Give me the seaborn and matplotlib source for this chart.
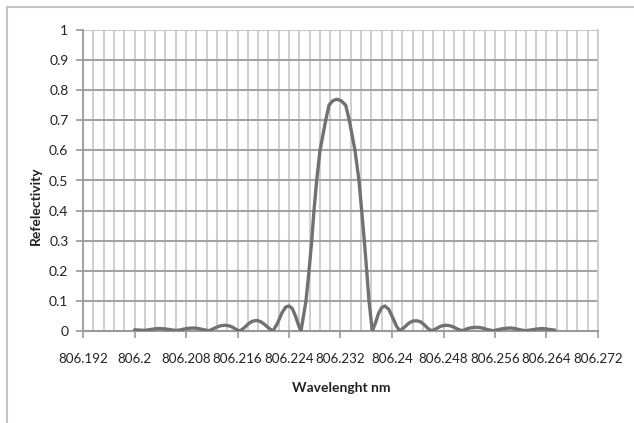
import matplotlib
matplotlib.use("Agg")
import matplotlib.pyplot as plt
import seaborn as sns
import pandas as pd
from matplotlib.lines import Line2D

wavelength = [
    806.2000, 806.2008, 806.2016, 806.2022, 806.2028, 806.2035, 806.2041, 806.2047, 806.2054, 806.2060,
    806.2066, 806.2072, 806.2078, 806.2085, 806.2091, 806.2097, 806.2104, 806.2110,
    806.2116, 806.2122, 806.2129, 806.2135, 806.2141, 806.2147, 806.2153, 806.2158,
    806.2164, 806.2171, 806.2178, 806.2184, 806.2190, 806.2196, 806.2202, 806.2209,
    806.2215, 806.2222, 806.2229, 806.2235, 806.2240, 806.2245, 806.2250, 806.2255,
    806.22586, 806.22664, 806.22711, 806.22753, 806.22788, 806.22830, 806.22882,
    806.22970, 806.23021, 806.23080, 806.23141, 806.23210, 806.23281, 806.23337,
    806.23425, 806.23487, 806.23529, 806.23570, 806.23607, 806.23643, 806.23694,
    806.2374, 806.2379, 806.2384, 806.2389, 806.2395, 806.2401, 806.2407,
    806.2412, 806.2419, 806.2426, 806.2432, 806.2438, 806.2444, 806.2450, 806.2456,
    806.2462, 806.2468, 806.2474, 806.2479, 806.2485, 806.2491, 806.2497, 806.2503,
    806.2509, 806.2515, 806.2521, 806.2527, 806.2534, 806.2540, 806.2546, 806.2552,
    806.2558, 806.2564, 806.2570, 806.2577, 806.2583, 806.2589, 806.2595, 806.2601,
    806.2608, 806.2614, 806.2620, 806.2627, 806.2633, 806.2639, 806.2645, 806.2653,
]
reflectivity = [
    0.004, 0.003, 0.002, 0.004, 0.006, 0.008, 0.008, 0.007, 0.005, 0.003,
    0.002, 0.004, 0.007, 0.009, 0.010, 0.009, 0.006, 0.003,
    0.001, 0.007, 0.014, 0.018, 0.019, 0.017, 0.012, 0.005,
    0.000, 0.012, 0.026, 0.033, 0.035, 0.031, 0.022, 0.009,
    0.000, 0.025, 0.060, 0.080, 0.083, 0.075, 0.050, 0.018,
    0.000, 0.100, 0.200, 0.300, 0.400, 0.500, 0.600,
    0.700, 0.750, 0.765, 0.770, 0.765, 0.750, 0.700,
    0.600, 0.500, 0.400, 0.300, 0.200, 0.100, 0.000,
    0.025, 0.058, 0.078, 0.083, 0.072, 0.045, 0.016,
    0.000, 0.012, 0.026, 0.033, 0.034, 0.031, 0.021, 0.008,
    0.000, 0.007, 0.014, 0.018, 0.019, 0.017, 0.012, 0.005,
    0.001, 0.006, 0.010, 0.012, 0.012, 0.010, 0.006, 0.003,
    0.001, 0.004, 0.007, 0.009, 0.010, 0.009, 0.006, 0.003,
    0.001, 0.003, 0.005, 0.007, 0.008, 0.007, 0.005, 0.003,
]
x_ticks = [806.192, 806.2, 806.208, 806.216, 806.224, 806.232, 806.24,
           806.248, 806.256, 806.264, 806.272]
x_tick_labels = ["806.192", "806.2", "806.208", "806.216", "806.224", "806.232",
                 "806.24", "806.248", "806.256", "806.264", "806.272"]
y_ticks = [0, 0.1, 0.2, 0.3, 0.4, 0.5, 0.6, 0.7, 0.8, 0.9, 1.0]
y_tick_labels = ["0", "0.1", "0.2", "0.3", "0.4", "0.5", "0.6", "0.7", "0.8", "0.9", "1"]

sns.set_style("white")
plt.rcParams['font.family'] = ['Lato', 'DejaVu Sans']

df = pd.DataFrame({"Wavelength": wavelength, "Reflectivity": reflectivity})

fig = plt.figure(figsize=(6.34, 4.23), dpi=100)
ax = fig.add_axes([83/634, 1 - 331/423, (598-83)/634, (331-30)/423])

# minor vertical gridlines every 0.0016
for i in range(1, 50):
    ax.axvline(806.192 + i * 0.0016, color="#cbcbcb", lw=1.3, zorder=1)
for yv in y_ticks[1:]:
    ax.axhline(yv, color="#a3a3a3" if yv < 1 else "#c9c9c9", lw=1.5, zorder=1.5)

sns.lineplot(data=df, x="Wavelength", y="Reflectivity", ax=ax, color="#717171",
             lw=2.4, zorder=3, sort=False)

ax.set_xlim(806.192, 806.272)
ax.set_ylim(0, 1)
ax.set_xticks(x_ticks)
ax.set_xticklabels(x_tick_labels)
ax.set_yticks(y_ticks)
ax.set_yticklabels(y_tick_labels)
ax.tick_params(axis="both", which="major", direction="out", length=5, width=1.2,
               color="#9a9a9a", labelsize=10, labelcolor="#222222",
               bottom=True, left=True)
ax.tick_params(axis="y", pad=5.5)
ax.tick_params(axis="x", pad=11, labelsize=9.6)

ax.spines["top"].set_visible(False)
ax.spines["right"].set_color("#c9c9c9")
ax.spines["right"].set_linewidth(1.3)
ax.spines["left"].set_color("#9a9a9a")
ax.spines["left"].set_linewidth(1.3)
ax.spines["bottom"].set_color("#9a9a9a")
ax.spines["bottom"].set_linewidth(1.5)

ax.set_xlabel("Wavelenght nm", fontsize=10, fontweight="bold", color="#222222")
ax.set_ylabel("Refelectivity", fontsize=10, fontweight="bold", color="#222222")
ax.xaxis.set_label_coords((341-83)/515, -(388-331)/301)
ax.xaxis.label.set_va("center")
ax.yaxis.set_label_coords(-(83-36)/515, (331-206)/301)
ax.yaxis.label.set_va("center")

# outer chart border
fig.add_artist(Line2D([7/634, 7/634], [0, 1 - 7/423], transform=fig.transFigure,
                      color="#c4c4c4", lw=1.5))
fig.add_artist(Line2D([7/634, 1], [1 - 7/423, 1 - 7/423], transform=fig.transFigure,
                      color="#c4c4c4", lw=1.5))

fig.savefig("out.png", dpi=100)
